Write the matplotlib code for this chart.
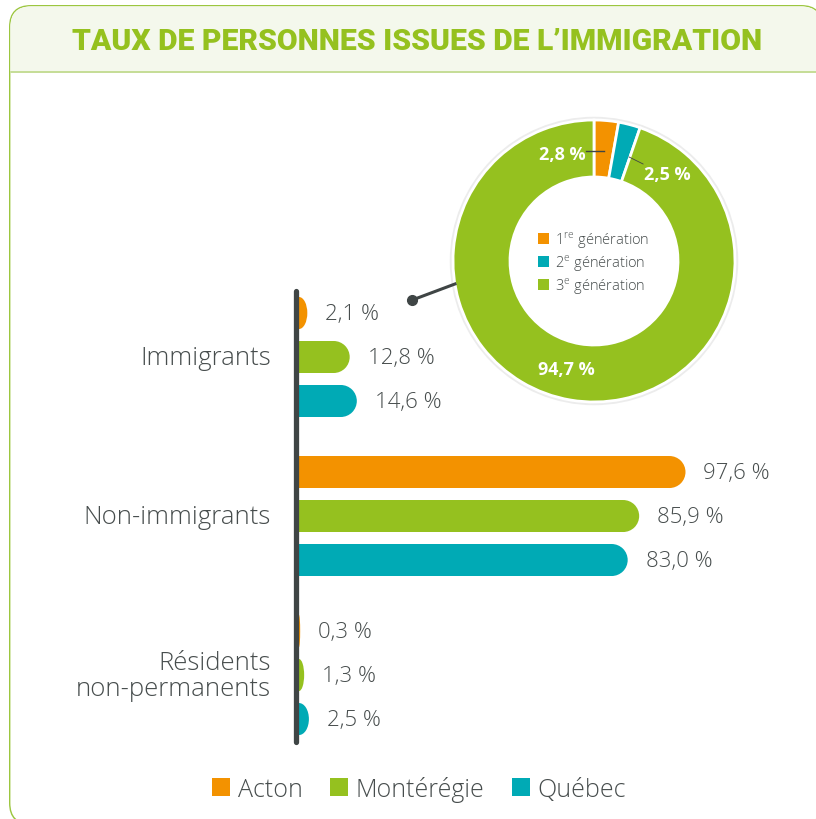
import matplotlib
matplotlib.use("Agg")
import matplotlib.pyplot as plt
from matplotlib.patches import FancyBboxPatch, Rectangle, Ellipse, Patch, Circle
from matplotlib.transforms import IdentityTransform

# data
categories = ["Immigrants", "Non-immigrants", "Résidents\nnon-permanents"]
regions = ["Acton", "Montérégie", "Québec"]
acton = [2.1, 97.6, 0.3]
monteregie = [12.8, 85.9, 1.3]
quebec = [14.6, 83.0, 2.5]

generations = ["1$^{\\mathregular{re}}$ génération",
               "2$^{\\mathregular{e}}$ génération",
               "3$^{\\mathregular{e}}$ génération"]
gen_values = [2.8, 2.5, 94.7]

ORANGE = "#f39200"
GREEN = "#95c11f"
TEAL = "#00aab5"
DARK = "#3f4545"
GRAY = "#474d4d"

plt.rcParams['font.family'] = ['Open Sans', 'DejaVu Sans']

W, H = 816, 820
fig = plt.figure(figsize=(W / 100, H / 100), dpi=100)


def rect(l, t, w, h):
    return [l / W, 1 - (t + h) / H, w / W, h / H]


def fmt(v):
    return f"{v:.1f}".replace(".", ",") + " %"


# card background (pixel coords, y up); border = green box under a slightly smaller white box
cx0, cy0, cx1, cy1 = 9, 6, 823, 826
bw = 1.4
fig.add_artist(FancyBboxPatch((cx0, H - cy1), cx1 - cx0, cy1 - cy0,
                              boxstyle="round,pad=0,rounding_size=22", fc="#9cc63f", ec="none",
                              transform=IdentityTransform()))
card = FancyBboxPatch((cx0 + bw, H - cy1 + bw), cx1 - cx0 - 2 * bw, cy1 - cy0 - 2 * bw,
                      boxstyle=f"round,pad=0,rounding_size={22 - bw}", fc="white", ec="none",
                      transform=IdentityTransform())
fig.add_artist(card)
head = Rectangle((0, H - 72), W + 20, 72, fc="#f4f8ec", ec="none", transform=IdentityTransform())
fig.add_artist(head)
head.set_clip_path(card)
sep = Rectangle((0, H - 73.5), W + 20, 1.6, fc="#c6dd98", ec="none", transform=IdentityTransform())
fig.add_artist(sep)
sep.set_clip_path(card)

title = fig.text(417 / W, 1 - 42 / H, "TAUX DE PERSONNES ISSUES DE L\u2019IMMIGRATION",
                 ha="center", va="center", fontsize=24, fontweight="heavy", color=GREEN,
                 family=["Roboto", "DejaVu Sans"])
fig.canvas.draw()
tw = title.get_window_extent().width
title.set_fontsize(24 * 690 / tw)

# bars
PX, PY = 3.96, 44.0
ax = fig.add_axes(rect(299, 280, W - 299, 480), zorder=1)
ax.set_xlim(0, (W - 299) / PX)
ax.set_ylim((760 - 314) / PY, (280 - 314) / PY)
ax.axis('off')
rx, ry = 16 / PX, 16 / PY
step = 3.614

for g in range(len(categories)):
    for s, (vals, col) in enumerate([(acton, ORANGE), (monteregie, GREEN), (quebec, TEAL)]):
        y = g * step + s
        v = vals[g]
        r = min(rx, v)
        cx = v - r
        if cx > 0:
            ax.add_patch(Rectangle((0, y - ry), cx, 2 * ry, fc=col, lw=0))
        ax.add_patch(Ellipse((cx, y), 2 * r, 2 * ry, fc=col, lw=0))
        ax.text(v + 18 / PX, y, fmt(v), va="center", ha="left", fontsize=16,
                color=GRAY, fontweight="light")
    ax.text(-28 / PX, g * step + 1, categories[g], ha="right", va="center",
            multialignment="right", fontsize=18.5, color=GRAY, fontweight="light",
            linespacing=1.05, clip_on=False)

ax.plot([-3 / PX] * 2, [-0.49, 9.74], color=DARK, lw=3.8, solid_capstyle="round",
        clip_on=False)

# donut
R = 141.0
dax = fig.add_axes(rect(444, 112, 300, 300), zorder=2)
dax.add_patch(Circle((0, 0), 1 + 1.5 / R, fill=False, ec="#ececec", lw=2.5))
dax.pie(gen_values, colors=[ORANGE, TEAL, GREEN], startangle=90, counterclock=False,
        radius=1, wedgeprops=dict(width=57 / R, edgecolor="white", linewidth=2))
dax.set_xlim(-150 / R, 150 / R)
dax.set_ylim(-150 / R, 150 / R)
dax.set_aspect('equal')
dax.axis('off')

lab = [fmt(v) for v in gen_values]
dax.text(-0.227, 0.759, lab[0], color="white", fontsize=13, fontweight="bold",
         ha="center", va="center")
dax.text(0.518, 0.617, lab[1], color="white", fontsize=13, fontweight="bold",
         ha="center", va="center")
dax.text(-0.199, -0.766, lab[2], color="white", fontsize=13, fontweight="bold",
         ha="center", va="center")
dax.plot([-0.057, 0.071], [0.78, 0.78], color=DARK, lw=1)
dax.plot([0.248, 0.348], [0.738, 0.688], color=DARK, lw=0.6)

dax.legend([Patch(fc=c) for c in [ORANGE, TEAL, GREEN]], generations,
           loc="center", bbox_to_anchor=(0.5, 0.495), frameon=False,
           handlelength=0.75, handleheight=0.75, handletextpad=0.4, labelspacing=0.15,
           labelcolor=GRAY, prop=dict(weight="light", size=10.5))

# pointer from bars to donut
dax.plot([-1.29, -0.986], [-0.277, -0.163], color=DARK, lw=2.2, clip_on=False)
dax.plot([-1.29], [-0.277], "o", color=DARK, ms=7, clip_on=False)

# legend
fig.legend([Patch(fc=c) for c in [ORANGE, GREEN, TEAL]], regions, loc="center",
           bbox_to_anchor=(419 / W, 1 - 790 / H), ncol=3, frameon=False,
           handlelength=0.72, handleheight=0.72, handletextpad=0.3, columnspacing=1.1,
           labelcolor=GRAY, prop=dict(weight="light", size=18))

fig.savefig("out.png", dpi=100)
